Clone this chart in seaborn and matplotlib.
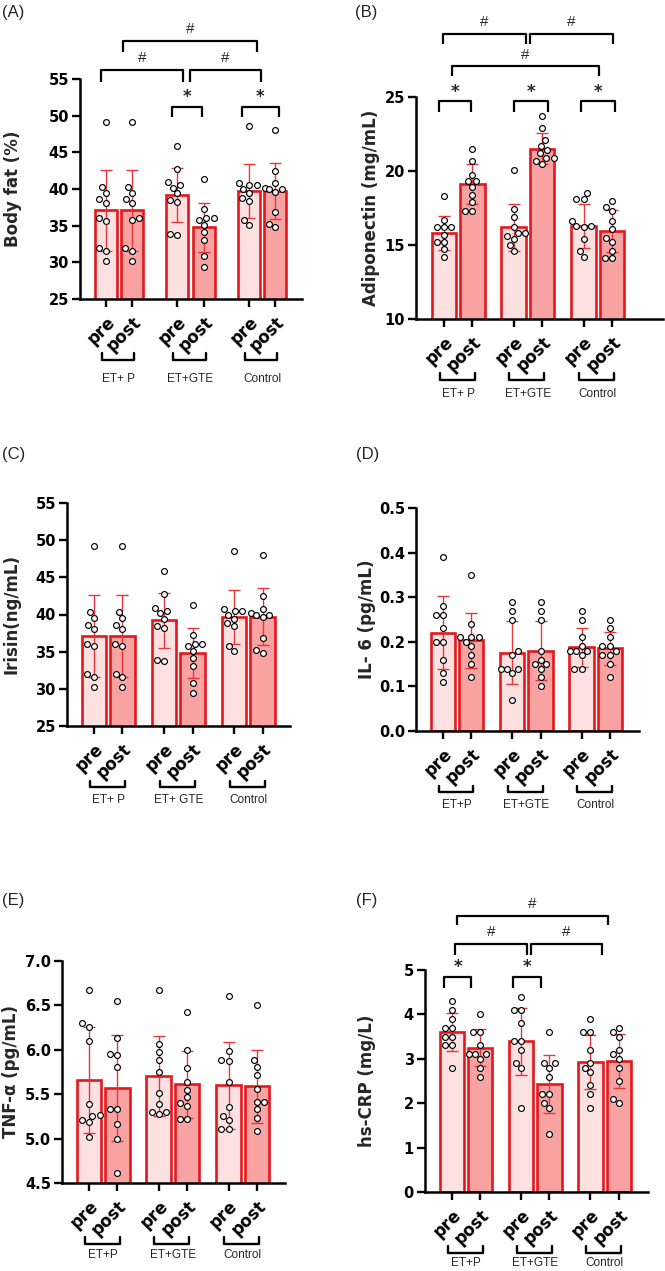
import numpy as np
import pandas as pd
import seaborn as sns
import matplotlib.pyplot as plt
from matplotlib.ticker import FormatStrFormatter
from matplotlib.transforms import blended_transform_factory

# ---- data (10 subjects per bar) ----
phases = ["pre", "post", "pre", "post", "pre", "post"]

# (A) body fat (%)
fat_mean = [37.1, 37.1, 39.2, 34.8, 39.7, 39.7]
fat_sd = [5.5, 5.5, 3.7, 3.35, 3.65, 3.8]
fat_pts = [
    [49.2, 40.3, 39.5, 38.1, 36.0, 30.2, 38.6, 35.7, 32.0, 31.6],
    [49.2, 40.3, 39.5, 38.1, 36.0, 30.2, 38.6, 35.8, 32.0, 31.6],
    [45.8, 42.7, 40.2, 39.4, 38.2, 40.9, 38.5, 40.5, 33.7, 33.9],
    [41.3, 36.0, 36.0, 37.3, 35.8, 35.1, 34.1, 33.1, 30.8, 29.4],
    [48.6, 40.8, 40.0, 40.5, 38.4, 35.8, 35.1, 40.5, 39.4, 38.8],
    [48.0, 42.5, 40.2, 39.6, 36.8, 40.0, 34.8, 40.8, 40.0, 35.2],
]

# (B) adiponectin (mg/mL)
adipo_mean = [15.8, 19.15, 16.2, 21.5, 16.3, 15.95]
adipo_sd = [1.15, 1.35, 1.6, 1.06, 1.5, 1.43]
adipo_pts = [
    [18.3, 16.7, 16.2, 16.2, 16.2, 15.7, 15.2, 15.2, 14.7, 14.2],
    [21.5, 20.7, 19.7, 19.3, 19.3, 18.9, 18.4, 17.9, 17.3, 17.3],
    [20.1, 17.4, 16.9, 16.2, 15.8, 15.8, 15.6, 15.4, 15.0, 14.6],
    [23.7, 22.9, 22.1, 21.7, 21.4, 21.2, 20.9, 20.9, 20.7, 20.5],
    [18.1, 18.5, 18.1, 16.6, 16.3, 16.3, 16.2, 15.4, 14.6, 14.2],
    [18.0, 17.6, 17.3, 16.6, 16.1, 15.5, 15.2, 14.6, 14.1, 14.1],
]

# (C) irisin (ng/mL) - same values as shown in (A)
irisin_mean = list(fat_mean)
irisin_sd = list(fat_sd)
irisin_pts = [list(p) for p in fat_pts]

# (D) IL-6 (pg/mL)
il6_mean = [0.22, 0.203, 0.176, 0.18, 0.188, 0.185]
il6_sd = [0.082, 0.062, 0.07, 0.066, 0.044, 0.038]
il6_pts = [
    [0.39, 0.28, 0.26, 0.26, 0.23, 0.20, 0.20, 0.16, 0.13, 0.11],
    [0.35, 0.24, 0.21, 0.21, 0.21, 0.20, 0.19, 0.17, 0.15, 0.12],
    [0.29, 0.27, 0.25, 0.18, 0.17, 0.14, 0.14, 0.14, 0.13, 0.07],
    [0.29, 0.27, 0.25, 0.18, 0.16, 0.14, 0.15, 0.15, 0.12, 0.10],
    [0.27, 0.25, 0.21, 0.19, 0.17, 0.18, 0.18, 0.18, 0.14, 0.14],
    [0.25, 0.23, 0.21, 0.19, 0.19, 0.18, 0.17, 0.17, 0.15, 0.12],
]

# (E) TNF-a (pg/mL)
tnf_mean = [5.66, 5.57, 5.71, 5.61, 5.6, 5.59]
tnf_sd = [0.6, 0.6, 0.45, 0.38, 0.49, 0.41]
tnf_pts = [
    [6.67, 6.30, 6.26, 6.10, 5.39, 5.26, 5.27, 5.21, 5.19, 5.02],
    [6.55, 6.13, 5.95, 5.94, 5.81, 5.33, 5.33, 5.16, 4.99, 4.61],
    [6.67, 6.07, 5.98, 5.89, 5.75, 5.51, 5.39, 5.28, 5.30, 5.30],
    [6.43, 6.00, 5.80, 5.64, 5.55, 5.40, 5.47, 5.37, 5.22, 5.22],
    [6.61, 5.99, 5.87, 5.88, 5.64, 5.36, 5.26, 5.21, 5.11, 5.11],
    [6.50, 5.88, 5.81, 5.72, 5.56, 5.41, 5.41, 5.33, 5.23, 5.09],
]

# (F) hs-CRP (mg/L)
crp_mean = [3.61, 3.25, 3.39, 2.44, 2.93, 2.95]
crp_sd = [0.43, 0.42, 0.75, 0.65, 0.6, 0.6]
crp_pts = [
    [4.3, 4.1, 3.9, 3.7, 3.7, 3.5, 3.5, 3.3, 3.3, 2.8],
    [4.0, 3.6, 3.6, 3.3, 3.1, 3.1, 3.1, 3.0, 2.8, 2.6],
    [4.4, 4.1, 4.1, 3.8, 3.4, 3.4, 3.2, 2.9, 2.8, 1.9],
    [3.6, 2.8, 2.9, 2.9, 2.6, 2.2, 2.2, 2.0, 1.9, 1.3],
    [3.9, 3.6, 3.6, 3.2, 2.9, 2.7, 2.8, 2.4, 2.2, 1.9],
    [3.7, 3.5, 3.6, 3.2, 3.1, 3.0, 2.8, 2.5, 2.0, 2.1],
]

# ---- style ----
sns.set_style("ticks")
plt.rcParams["font.family"] = ["DejaVu Sans"]
SANS = ["Liberation Sans", "DejaVu Sans"]
pre_color = "#FDE1E1"
post_color = "#F8A2A2"
edge_color = "#E5171D"
err_color = "#E8353A"

W, H = 665, 1271
fig = plt.figure(figsize=(W / 100, H / 100), dpi=100)


def make_axes(l, t, r, b):
    return fig.add_axes([l / W, 1 - b / H, (r - l) / W, (b - t) / H])


def bracket(ax, x1, x2, ytop, ybot, label):
    ax.plot([x1, x1, x2, x2], [ybot, ytop, ytop, ybot], color="black",
            lw=1.6, clip_on=False, solid_capstyle="butt")
    if label == "*":
        ax.annotate(label, ((x1 + x2) / 2, ytop), xytext=(0, 0.5),
                    textcoords="offset points", ha="center", va="bottom",
                    fontsize=12, fontweight="bold", annotation_clip=False)
    else:
        ax.annotate(label, ((x1 + x2) / 2, ytop), xytext=(0, 3.5),
                    textcoords="offset points", ha="center", va="bottom",
                    fontsize=11, family=SANS, annotation_clip=False)


def panel(rect, pos, xlim, means, sds, pts, yticks, ylabel, label_x,
          group_names, fmt, group_y, width=0.86):
    ax = make_axes(*rect)
    bars = pd.DataFrame({"pos": pos, "mean": means, "phase": phases})
    sns.barplot(data=bars, x="pos", y="mean", hue="phase",
                palette={"pre": pre_color, "post": post_color},
                native_scale=True, dodge=False, width=width, saturation=1,
                errorbar=None, legend=False, edgecolor=edge_color,
                linewidth=1.9, ax=ax)
    ax.errorbar(pos, means, yerr=sds, fmt="none", ecolor=err_color,
                elinewidth=1.0, capsize=4.5, capthick=1.0, zorder=3)
    dots = pd.DataFrame({"pos": np.repeat(pos, [len(p) for p in pts]),
                         "val": np.concatenate(pts)})
    sns.swarmplot(data=dots, x="pos", y="val", native_scale=True,
                  color="white", edgecolor="black", linewidth=0.85, size=4.2,
                  zorder=4, ax=ax)

    ax.set_xlim(*xlim)
    ax.set_ylim(yticks[0], yticks[-1])
    ax.set_yticks(yticks)
    ax.yaxis.set_major_formatter(FormatStrFormatter(fmt))
    ax.set_xticks(pos)
    ax.set_xticklabels(phases, rotation=45, ha="right", va="top",
                       rotation_mode="anchor", fontsize=12, fontweight="bold")
    for t in ax.get_yticklabels():
        t.set_fontweight("bold")
        t.set_fontsize(10.5)
    ax.set_xlabel("")
    ax.set_ylabel(ylabel, fontsize=12, fontweight="bold")
    ax.yaxis.set_label_coords(label_x, 0.5)
    sns.despine(ax=ax)
    for s in ["left", "bottom"]:
        ax.spines[s].set_linewidth(1.8)
        ax.spines[s].set_color("black")
    ax.tick_params(axis="both", direction="out", length=6, width=1.7,
                   colors="black", pad=2)
    ax.tick_params(axis="x", pad=4)

    trans = blended_transform_factory(ax.transData, ax.transAxes)
    for g, name in enumerate(group_names):
        x1 = pos[2 * g] - 0.15
        x2 = pos[2 * g + 1] + 0.08
        ax.plot([x1, x1, x2, x2], [-0.245, -0.275, -0.275, -0.245],
                transform=trans, clip_on=False, color="black", lw=1.7)
        ax.text((pos[2 * g] + pos[2 * g + 1]) / 2, group_y, name,
                transform=trans, ha="center", va="center", fontsize=8.5,
                family=SANS)
    return ax


pos_a = [0, 1, 2.7, 3.7, 5.4, 6.4]
pos_b = [0, 1, 2.45, 3.45, 4.9, 5.9]

ax_a = panel((80, 79, 302, 299), pos_a, (-0.97, 7.41), fat_mean, fat_sd,
             fat_pts, [25, 30, 35, 40, 45, 50, 55], "Body fat (%)", -0.26,
             ["ET+ P", "ET+GTE", "Control"], "%d", -0.365, width=0.82)
bracket(ax_a, 0.66, 5.70, 60.2, 58.7, "#")
bracket(ax_a, -0.18, 2.90, 56.2, 54.6, "#")
bracket(ax_a, 3.18, 5.86, 56.2, 54.6, "#")
bracket(ax_a, 2.51, 3.63, 51.2, 49.8, "*")
bracket(ax_a, 5.13, 6.53, 51.2, 49.8, "*")

ax_b = panel((416, 97, 663, 319), pos_b, (-0.98, 7.69), adipo_mean,
             adipo_sd, adipo_pts, [10, 15, 20, 25], "Adiponectin (mg/mL)",
             -0.146, ["ET+ P", "ET+GTE", "Control"], "%d", -0.34)
bracket(ax_b, -0.19, 0.96, 24.7, 24.0, "*")
bracket(ax_b, 2.46, 3.65, 24.7, 24.0, "*")
bracket(ax_b, 4.80, 6.02, 24.7, 24.0, "*")
bracket(ax_b, 0.28, 5.43, 27.07, 26.44, "#")
bracket(ax_b, -0.04, 2.89, 29.28, 28.58, "#")
bracket(ax_b, 3.03, 5.93, 29.28, 28.58, "#")

panel((67, 503, 290, 726), pos_b, (-0.94, 6.86), irisin_mean, irisin_sd,
      irisin_pts, [25, 30, 35, 40, 45, 50, 55], "Irisin(ng/mL)", -0.21,
      ["ET+ P", "ET+ GTE", "Control"], "%d", -0.33)

panel((416, 508, 639, 731), pos_b, (-0.95, 6.93), il6_mean, il6_sd,
      il6_pts, [0.0, 0.1, 0.2, 0.3, 0.4, 0.5], "IL- 6 (pg/mL)", -0.18,
      ["ET+P", "ET+GTE", "Control"], "%.1f", -0.33)

panel((62, 961, 285, 1183), pos_b, (-0.94, 6.88), tnf_mean, tnf_sd,
      tnf_pts, [4.5, 5.0, 5.5, 6.0, 6.5, 7.0], "TNF-\u03b1 (pg/mL)", -0.19,
      ["ET+P", "ET+GTE", "Control"], "%.1f", -0.325)

ax_f = panel((425, 970, 648, 1192), pos_b, (-0.96, 6.94), crp_mean, crp_sd,
             crp_pts, [0, 1, 2, 3, 4, 5], "hs-CRP (mg/L)", -0.22,
             ["ET+P", "ET+GTE", "Control"], "%d", -0.32)
bracket(ax_f, 0.17, 5.52, 6.22, 6.01, "#")
bracket(ax_f, 0.12, 2.66, 5.58, 5.34, "#")
bracket(ax_f, 2.78, 5.32, 5.58, 5.34, "#")
bracket(ax_f, -0.27, 0.68, 4.85, 4.59, "*")
bracket(ax_f, 2.17, 3.14, 4.85, 4.59, "*")

for txt, x, y in [("(A)", 2, 12), ("(B)", 355, 12), ("(C)", 2, 455),
                  ("(D)", 356, 454), ("(E)", 2, 900), ("(F)", 356, 901)]:
    fig.text(x / W, 1 - y / H, txt, ha="left", va="center", fontsize=12,
             family=SANS)

fig.savefig("out.png", dpi=100)
